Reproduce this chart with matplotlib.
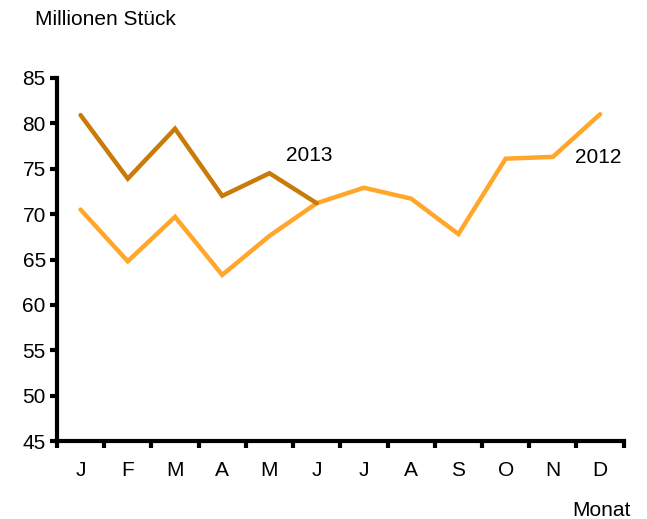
import numpy as np
import matplotlib.pyplot as plt

plt.rcParams['font.family'] = ['Liberation Sans', 'DejaVu Sans']

# Monatswerte, Millionen Stück
months = ['J', 'F', 'M', 'A', 'M', 'J', 'J', 'A', 'S', 'O', 'N', 'D']
sales_2012 = [70.5, 64.8, 69.7, 63.3, 67.6, 71.2, 72.9, 71.7, 67.8, 76.1, 76.3, 81.0]
sales_2013 = [80.9, 73.9, 79.4, 72.0, 74.5, 71.2]

fig = plt.figure(figsize=(6.47, 5.19), dpi=100)
ax = fig.add_axes([0.088, 0.150, 0.876, 0.700])

x = np.arange(len(months))
ax.plot(x, sales_2012, color='#FFA62B', lw=3.2, solid_capstyle='round', solid_joinstyle='miter')
ax.plot(x[:len(sales_2013)], sales_2013, color='#C97B0A', lw=3.2, solid_capstyle='round', solid_joinstyle='miter')

ax.text(4.85, 76.5, '2013', fontsize=15, ha='center', va='center')
ax.text(10.95, 76.2, '2012', fontsize=15, ha='center', va='center')

ax.set_xlim(-0.5, 11.5)
ax.set_ylim(45, 85)
ax.set_yticks(range(45, 90, 5))
ax.set_xticks(x)
ax.set_xticklabels(months)
ax.set_xticks(np.arange(-0.5, 12, 1), minor=True)
ax.tick_params(axis='x', which='major', length=0, pad=14, labelsize=15)
ax.tick_params(axis='x', which='minor', length=5, width=3, direction='out')
ax.tick_params(axis='y', length=5, width=3, direction='out', labelsize=15, pad=3)

for s in ['top', 'right']:
    ax.spines[s].set_visible(False)
for s in ['left', 'bottom']:
    ax.spines[s].set_linewidth(3)

fig.text(0.054, 0.962, 'Millionen Stück', fontsize=15, ha='left', va='center')
fig.text(0.975, 0.017, 'Monat', fontsize=15, ha='right', va='center')

fig.savefig('out.png', dpi=100)
